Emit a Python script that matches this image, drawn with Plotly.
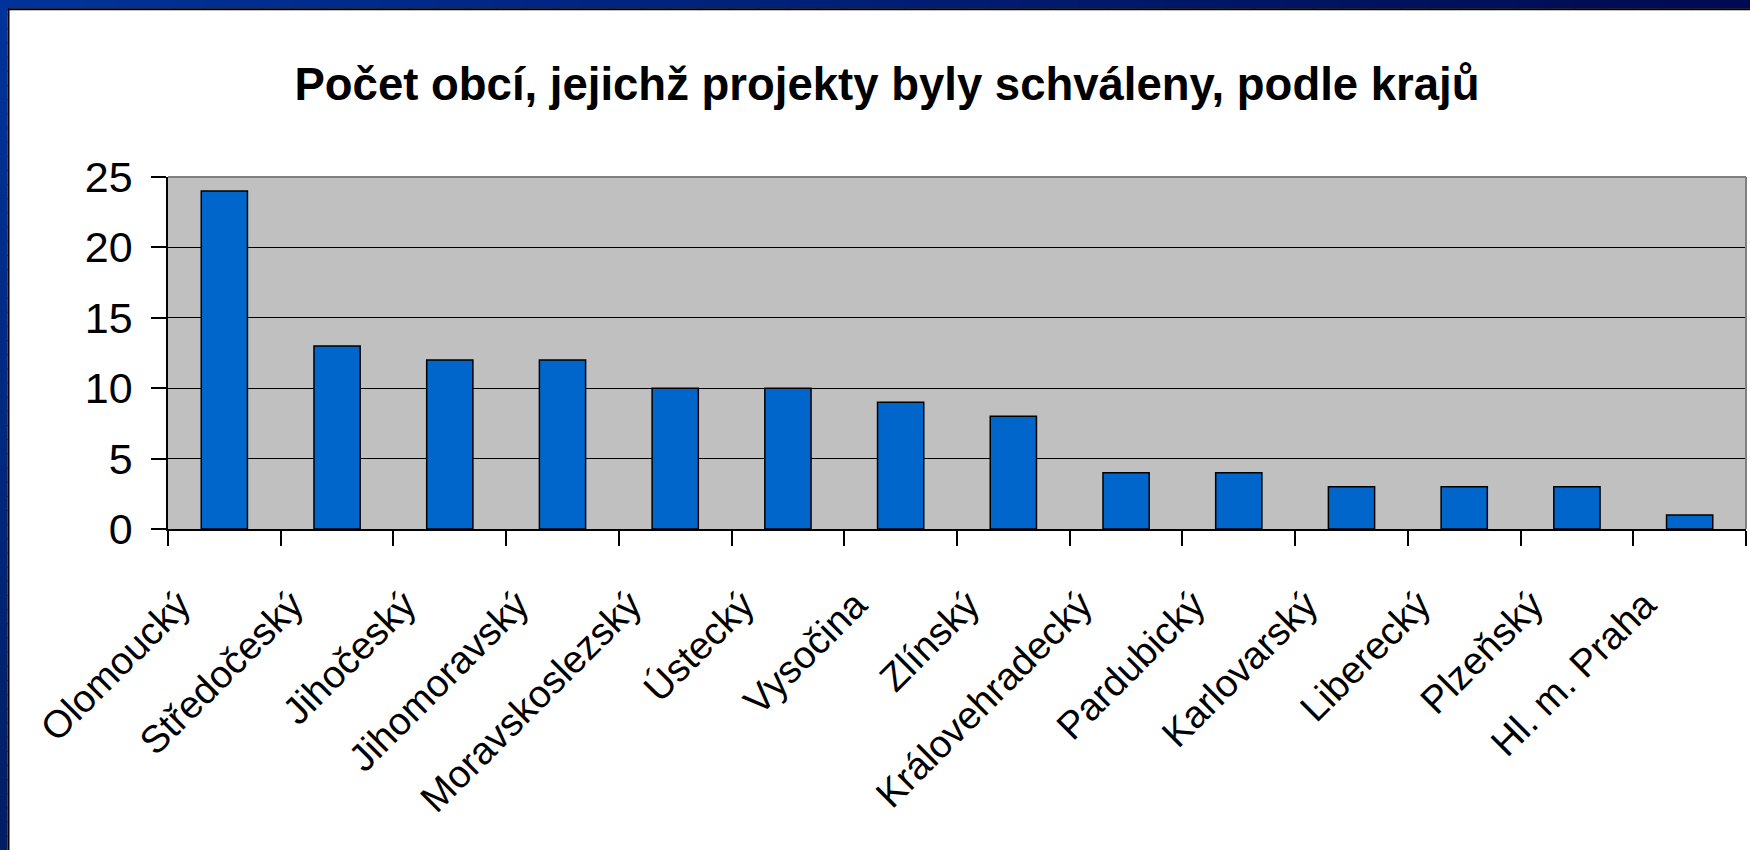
import plotly.graph_objects as go

categories = ["Olomoucký", "Středočeský", "Jihočeský", "Jihomoravský", "Moravskoslezský",
              "Ústecký", "Vysočina", "Zlínský", "Královehradecký", "Pardubický",
              "Karlovarský", "Liberecký", "Plzeňský", "Hl. m. Praha"]
values = [24, 13, 12, 12, 10, 10, 9, 8, 4, 4, 3, 3, 3, 1]
y_ticks = [0, 5, 10, 15, 20, 25]

W, H = 1750, 850
L, R, T, B = 168, 4, 177, 321
PW, PH = W - L - R, H - T - B

def px(x):
    return (x - L) / PW

def py(y):
    return (H - B - y) / PH

def lerp(c1, c2, t):
    return "rgb(%d,%d,%d)" % tuple(round(a + (b - a) * t) for a, b in zip(c1, c2))

FONT = "Liberation Sans, Arial, sans-serif"

fig = go.Figure(go.Bar(
    x=categories, y=values,
    marker=dict(color="#0066CC", line=dict(color="black", width=1.5)),
    width=0.41,
))

shapes = []
# blue frame with gradient (decorative)
n = 60
c_left, c_right = (0, 51, 153), (0, 10, 80)
for i in range(n):
    x0 = W * i / n
    x1 = W * (i + 1) / n + 1
    shapes.append(dict(type="rect", xref="paper", yref="paper",
                       x0=px(x0), x1=px(x1), y0=py(0), y1=py(8.5),
                       fillcolor=lerp(c_left, c_right, i / (n - 1)), line_width=0, layer="above"))
c_top, c_bot = (0, 51, 153), (0, 30, 100)
for i in range(n):
    y0 = H * i / n
    y1 = H * (i + 1) / n + 1
    shapes.append(dict(type="rect", xref="paper", yref="paper",
                       x0=px(0), x1=px(7.5), y0=py(y0), y1=py(y1),
                       fillcolor=lerp(c_top, c_bot, i / (n - 1)), line_width=0, layer="above"))
# black inner edge of the frame
shapes.append(dict(type="line", xref="paper", yref="paper", x0=px(7.5), x1=px(W), y0=py(9.3), y1=py(9.3),
                   line=dict(color="black", width=2), layer="above"))
shapes.append(dict(type="line", xref="paper", yref="paper", x0=px(8.5), x1=px(8.5), y0=py(8.5), y1=py(H),
                   line=dict(color="black", width=2), layer="above"))
# gray top/right border of plot area
shapes.append(dict(type="line", xref="paper", yref="paper", x0=0, x1=1, y0=1, y1=1,
                   line=dict(color="#808080", width=2), layer="above"))
shapes.append(dict(type="line", xref="paper", yref="paper", x0=1, x1=1, y0=0, y1=1,
                   line=dict(color="#808080", width=2), layer="above"))

fig.update_layout(
    width=W, height=H,
    margin=dict(l=L, r=R, t=T, b=B, autoexpand=False),
    paper_bgcolor="white", plot_bgcolor="#C0C0C0",
    showlegend=False,
    bargap=0.59,
    font=dict(family=FONT, color="black"),
    title=dict(text="<b>Počet obcí, jejichž projekty byly schváleny, podle krajů</b>",
               font=dict(family=FONT, size=45.5, color="black"),
               x=887 / W, xref="container", xanchor="center",
               y=1 - 84 / H, yref="container", yanchor="middle"),
    shapes=shapes,
)
fig.update_xaxes(
    type="category", tickangle=-45, tickson="boundaries",
    ticks="outside", ticklen=15, tickwidth=1.5, tickcolor="black",
    showline=True, linecolor="black", linewidth=1.5,
    tickfont=dict(family=FONT, size=38.5, color="black"),
    ticklabelshift=-45, ticklabelstandoff=36,
    showgrid=False, automargin=False,
)
fig.update_yaxes(
    range=[0, 25], tickvals=y_ticks,
    ticks="outside", ticklen=15, tickwidth=1.5, tickcolor="black",
    showline=True, linecolor="black", linewidth=1.5,
    showgrid=True, gridcolor="black", gridwidth=1.3, zeroline=False,
    tickfont=dict(family=FONT, size=43, color="black"),
    ticklabelstandoff=10, automargin=False,
)
fig.write_html("out.html", config={"displayModeBar": False},
               post_script="document.body.style.margin='0';document.body.style.overflow='hidden';")
